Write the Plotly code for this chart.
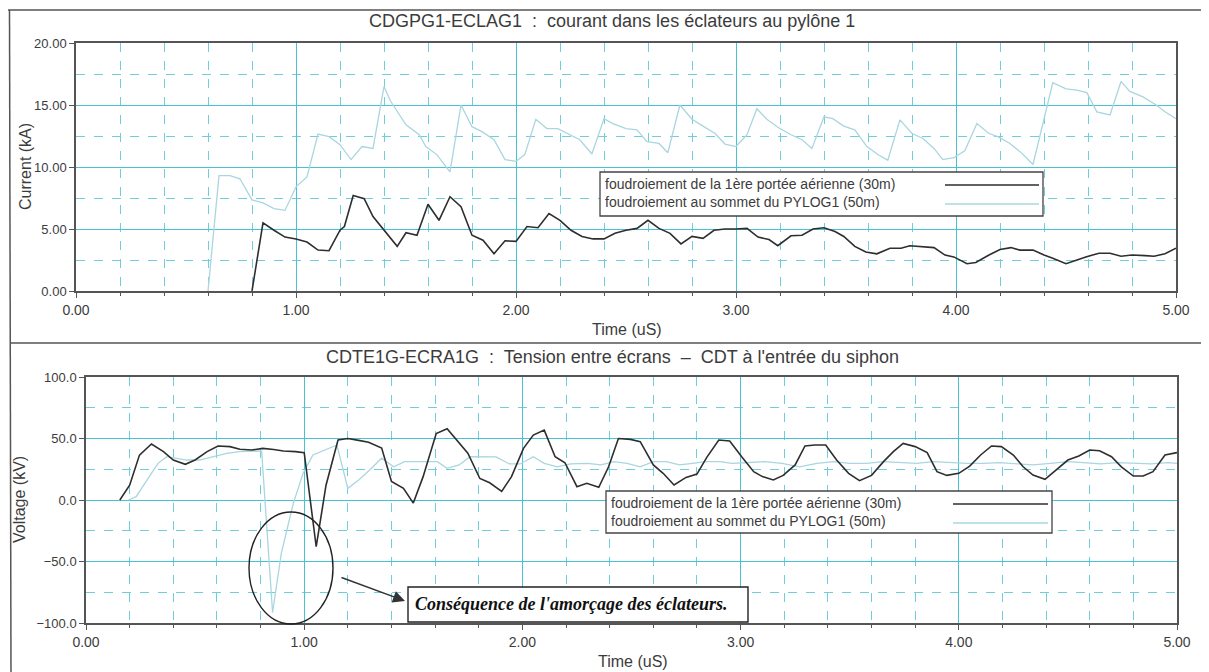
import plotly.graph_objects as go

# ---------------- data ----------------
top_black_t = [0.80, 0.85, 0.90, 0.95, 1.00, 1.05, 1.10, 1.15, 1.20, 1.22, 1.26, 1.31, 1.35, 1.40, 1.46,
               1.50, 1.55, 1.60, 1.65, 1.70, 1.75, 1.80, 1.85, 1.90, 1.95, 2.00, 2.05, 2.10, 2.15, 2.20,
               2.25, 2.30, 2.35, 2.40, 2.45, 2.50, 2.55, 2.60, 2.65, 2.70, 2.75, 2.80, 2.85, 2.90, 2.95,
               3.00, 3.05, 3.10, 3.15, 3.19, 3.25, 3.30, 3.35, 3.40, 3.45, 3.49, 3.54, 3.59, 3.64, 3.70,
               3.75, 3.79, 3.84, 3.90, 3.95, 3.99, 4.05, 4.09, 4.15, 4.20, 4.25, 4.29, 4.35, 4.40, 4.44,
               4.50, 4.55, 4.59, 4.65, 4.70, 4.75, 4.80, 4.86, 4.90, 4.95, 5.00]
top_black_i = [0.0, 5.5, 4.9, 4.35, 4.2, 3.95, 3.3, 3.25, 4.9, 5.2, 7.7, 7.45, 6.0, 4.9, 3.6,
               4.7, 4.5, 7.0, 5.7, 7.6, 6.8, 4.5, 4.1, 3.0, 4.05, 4.0, 5.2, 5.1, 6.25, 5.7,
               4.9, 4.4, 4.2, 4.2, 4.65, 4.9, 5.05, 5.7, 5.05, 4.65, 3.8, 4.4, 4.25, 4.9, 5.0,
               5.0, 5.05, 4.35, 4.15, 3.65, 4.45, 4.5, 5.0, 5.1, 4.8, 4.4, 3.6, 3.15, 3.0, 3.45,
               3.45, 3.65, 3.6, 3.5, 2.9, 2.75, 2.2, 2.3, 2.9, 3.35, 3.5, 3.3, 3.3, 2.9, 2.65,
               2.2, 2.5, 2.75, 3.05, 3.05, 2.8, 2.9, 2.85, 2.8, 3.0, 3.45]

top_cyan_t = [0.60, 0.65, 0.70, 0.745, 0.80, 0.85, 0.90, 0.95, 1.00, 1.05, 1.10, 1.15, 1.20, 1.25, 1.30,
              1.35, 1.40, 1.43, 1.50, 1.56, 1.59, 1.64, 1.70, 1.75, 1.80, 1.845, 1.90, 1.95, 2.00, 2.04,
              2.09, 2.14, 2.19, 2.245, 2.29, 2.345, 2.40, 2.44, 2.50, 2.55, 2.595, 2.65, 2.69, 2.745, 2.80,
              2.85, 2.905, 2.95, 3.00, 3.05, 3.095, 3.14, 3.19, 3.25, 3.30, 3.345, 3.40, 3.44, 3.49, 3.54,
              3.595, 3.65, 3.69, 3.745, 3.80, 3.85, 3.90, 3.94, 3.99, 4.04, 4.095, 4.15, 4.19, 4.245, 4.30,
              4.35, 4.40, 4.44, 4.50, 4.55, 4.595, 4.64, 4.70, 4.75, 4.79, 4.85, 4.91, 4.95, 5.00]
top_cyan_i = [0.0, 9.3, 9.3, 9.05, 7.35, 7.1, 6.65, 6.5, 8.4, 9.2, 12.65, 12.45, 11.8, 10.6, 11.65,
              11.5, 16.5, 15.3, 13.4, 12.6, 11.65, 11.0, 9.6, 15.0, 13.25, 12.85, 12.2, 10.6, 10.45, 11.0,
              13.85, 13.1, 13.1, 12.6, 12.2, 11.05, 13.9, 13.5, 13.1, 13.0, 12.05, 11.9, 11.15, 15.0, 13.85,
              13.3, 12.7, 11.85, 11.65, 12.6, 14.7, 13.85, 13.2, 12.6, 12.2, 11.5, 14.05, 13.9, 13.3, 13.0,
              11.65, 10.95, 10.55, 13.8, 12.7, 12.3, 11.5, 10.6, 10.75, 11.3, 13.5, 12.7, 12.45, 11.9, 11.1,
              10.2, 13.9, 16.8, 16.3, 16.2, 16.0, 14.45, 14.2, 16.9, 16.1, 15.65, 15.0, 14.45, 13.9]

bot_black_t = [0.155, 0.20, 0.245, 0.30, 0.355, 0.40, 0.455, 0.50, 0.555, 0.605, 0.66, 0.705, 0.76, 0.81, 0.86,
               0.905, 0.96, 1.00, 1.055, 1.10, 1.155, 1.20, 1.25, 1.295, 1.355, 1.40, 1.455, 1.50, 1.545, 1.605,
               1.655, 1.705, 1.75, 1.805, 1.85, 1.905, 1.95, 2.005, 2.05, 2.10, 2.15, 2.195, 2.25, 2.295, 2.35,
               2.395, 2.44, 2.495, 2.54, 2.60, 2.645, 2.695, 2.75, 2.80, 2.845, 2.90, 2.95, 3.005, 3.06, 3.10,
               3.15, 3.195, 3.25, 3.295, 3.34, 3.39, 3.44, 3.495, 3.545, 3.60, 3.655, 3.70, 3.745, 3.80, 3.855,
               3.90, 3.945, 4.00, 4.05, 4.10, 4.15, 4.195, 4.25, 4.295, 4.34, 4.395, 4.45, 4.50, 4.55, 4.60,
               4.645, 4.70, 4.745, 4.80, 4.845, 4.89, 4.945, 5.00]
bot_black_v = [0.0, 12.0, 36.5, 45.5, 39.3, 32.5, 29.0, 32.5, 39.3, 43.9, 43.4, 41.2, 40.6, 42.0, 41.0,
               39.8, 39.3, 38.5, -38.0, 12.0, 48.8, 50.0, 48.5, 47.0, 42.3, 15.0, 9.5, -2.5, 19.0, 54.0,
               58.0, 47.5, 38.0, 17.5, 14.0, 7.0, 19.0, 42.0, 52.8, 56.8, 35.2, 30.3, 10.8, 13.6, 10.3,
               27.0, 50.0, 49.3, 47.4, 28.5, 21.7, 12.2, 18.4, 21.1, 34.7, 48.8, 48.0, 35.2, 23.0, 19.0,
               16.3, 20.0, 28.5, 43.9, 44.7, 44.7, 32.5, 21.7, 15.7, 20.0, 31.2, 39.3, 46.0, 43.4, 38.5,
               23.0, 20.0, 21.7, 27.6, 36.6, 43.9, 43.4, 36.6, 27.0, 20.3, 16.8, 25.0, 32.5, 35.8, 40.6,
               40.0, 35.2, 27.0, 19.5, 19.5, 23.0, 36.6, 38.5]

bot_cyan_t = [0.195, 0.23, 0.28, 0.33, 0.37, 0.415, 0.46, 0.52, 0.585, 0.645, 0.705, 0.765, 0.805, 0.855, 0.895,
              0.95, 0.995, 1.04, 1.095, 1.15, 1.20, 1.25, 1.30, 1.355, 1.41, 1.46, 1.515, 1.55, 1.61, 1.655,
              1.71, 1.76, 1.82, 1.88, 1.94, 1.99, 2.05, 2.10, 2.16, 2.22, 2.30, 2.36, 2.42, 2.48, 2.54,
              2.60, 2.66, 2.72, 2.78, 2.84, 2.905, 2.96, 3.04, 3.11, 3.19, 3.27, 3.35, 3.425, 3.50, 3.577,
              3.654, 3.73, 3.807, 3.883, 3.96, 4.04, 4.11, 4.19, 4.27, 4.34, 4.42, 4.50, 4.57, 4.65, 4.73,
              4.80, 4.88, 4.96, 5.00]
bot_cyan_v = [0.0, 2.7, 16.3, 29.8, 35.2, 34.0, 32.5, 32.5, 35.2, 37.9, 39.3, 39.3, 39.8, -91.5, -43.4,
              -2.7, 21.7, 36.6, 40.6, 44.7, 9.5, 16.3, 24.4, 34.0, 27.0, 31.2, 31.2, 31.2, 31.2, 25.7,
              28.5, 35.2, 35.0, 35.0, 29.3, 29.3, 35.2, 29.8, 27.0, 29.3, 29.8, 28.5, 31.2, 29.8, 27.0,
              31.2, 31.2, 28.5, 29.8, 31.2, 31.2, 29.8, 30.5, 31.2, 29.8, 27.0, 29.8, 31.2, 29.8, 29.8,
              31.2, 30.4, 29.8, 31.2, 30.4, 29.8, 29.8, 30.4, 29.3, 28.5, 29.8, 31.2, 30.4, 29.3, 30.4,
              29.8, 29.3, 30.4, 29.8]

series_names = ["foudroiement de la 1ère portée aérienne (30m)",
                "foudroiement au sommet du PYLOG1 (50m)"]
titles = ["CDGPG1-ECLAG1  :  courant dans les éclateurs au pylône 1",
          "CDTE1G-ECRA1G  :  Tension entre écrans  \u2013  CDT à l'entrée du siphon"]
x_title = "Time (uS)"
y_titles = ["Current (kA)", "Voltage (kV)"]
note_text = "Conséquence de l'amorçage des éclateurs."

# ---------------- style ----------------
OFF = 8                      # default page body margin
W, H = 1209 - OFF, 672 - OFF
FONT = "Liberation Sans, Arial, sans-serif"
TXT = "#3c3c3c"
DARK = "#2e2e2e"
LIGHT = "#a9d6df"
GRID = "#45c2d3"
MINOR = "#6fcedb"


def px(x):
    return (x - OFF) / W


def py(y):
    return 1 - (y - OFF) / H


fig = go.Figure()
fig.add_trace(go.Scatter(x=top_black_t, y=top_black_i, mode="lines", line=dict(color=DARK, width=1.6),
                         xaxis="x", yaxis="y", showlegend=False))
fig.add_trace(go.Scatter(x=top_cyan_t, y=top_cyan_i, mode="lines", line=dict(color=LIGHT, width=1.3),
                         xaxis="x", yaxis="y", showlegend=False))
fig.add_trace(go.Scatter(x=bot_cyan_t, y=bot_cyan_v, mode="lines", line=dict(color=LIGHT, width=1.3),
                         xaxis="x2", yaxis="y2", showlegend=False))
fig.add_trace(go.Scatter(x=bot_black_t, y=bot_black_v, mode="lines", line=dict(color=DARK, width=1.6),
                         xaxis="x2", yaxis="y2", showlegend=False))


def xax(domain, anchor):
    return dict(domain=domain, anchor=anchor, range=[0, 5], dtick=1, tick0=0, tickformat=".2f",
                automargin=False,
                showline=True, linecolor="#555", linewidth=1.5, mirror=True,
                ticks="outside", ticklen=5, tickcolor="#555",
                showgrid=True, gridcolor=GRID, gridwidth=1, zeroline=False,
                minor=dict(dtick=0.2, showgrid=True, gridcolor=MINOR, griddash="dash", gridwidth=1,
                           ticks="outside", ticklen=3, tickcolor="#555"),
                tickfont=dict(family=FONT, size=14, color=TXT),
                fixedrange=True)


def yax(domain, anchor, rng, dtick, mdtick, fmt):
    return dict(domain=domain, anchor=anchor, range=rng, dtick=dtick, tickformat=fmt,
                automargin=False,
                showline=True, linecolor="#555", linewidth=1.5, mirror=True,
                ticks="outside", ticklen=5, tickcolor="#555",
                showgrid=True, gridcolor=GRID, gridwidth=1, zeroline=False,
                minor=dict(dtick=mdtick, showgrid=True, gridcolor=MINOR, griddash="dash", gridwidth=1),
                tickfont=dict(family=FONT, size=13, color=TXT),
                fixedrange=True)


fig.update_layout(
    width=W, height=H, margin=dict(l=0, r=0, t=0, b=0, autoexpand=False),
    paper_bgcolor="white", plot_bgcolor="white",
    xaxis=xax([px(76), px(1176)], "y"),
    yaxis=yax([py(291), py(43)], "x", [0, 20], 5, 2.5, ".2f"),
    xaxis2=xax([px(86), px(1177)], "y2"),
    yaxis2=yax([py(623), py(377)], "x2", [-100, 100], 50, 25, ".1f"),
)

shapes = []
# outer frame
shapes.append(dict(type="line", xref="paper", yref="paper", x0=px(8), x1=1, y0=py(10), y1=py(10),
                   line=dict(color="#555", width=1.5)))
shapes.append(dict(type="line", xref="paper", yref="paper", x0=px(9.5), x1=px(11), y0=py(10), y1=0,
                   line=dict(color="#555", width=1.5)))
shapes.append(dict(type="line", xref="paper", yref="paper", x0=px(10), x1=1, y0=py(343), y1=py(343),
                   line=dict(color="#555", width=1.5)))

annotations = []
# titles
for t, (tx, ty) in zip(titles, [(612, 21), (612, 357)]):
    annotations.append(dict(text=t, xref="paper", yref="paper", x=px(tx), y=py(ty), showarrow=False,
                            xanchor="center", yanchor="middle",
                            font=dict(family=FONT, size=18, color=TXT)))
# axis titles
for (tx, ty) in [(627, 329), (633, 661)]:
    annotations.append(dict(text=x_title, xref="paper", yref="paper", x=px(tx), y=py(ty), showarrow=False,
                            xanchor="center", yanchor="middle",
                            font=dict(family=FONT, size=16, color=TXT)))
for t, (tx, ty) in zip(y_titles, [(25, 167), (19, 500)]):
    annotations.append(dict(text=t, xref="paper", yref="paper", x=px(tx), y=py(ty), showarrow=False,
                            xanchor="center", yanchor="middle",
                            textangle=-90, font=dict(family=FONT, size=16, color=TXT)))

# legends (text left, line sample right)
for (bx0, bx1, by0, by1, ty, sx0, sx1, sy) in [
        (600, 1043, 172, 216, (184, 202), 945, 1039, (185, 204)),
        (606, 1052, 491, 533, (503, 521), 953, 1048, (504, 523))]:
    shapes.append(dict(type="rect", xref="paper", yref="paper", x0=px(bx0), x1=px(bx1), y0=py(by1), y1=py(by0),
                       fillcolor="white", line=dict(color="#444", width=1.3), layer="above"))
    for k, col in enumerate([DARK, LIGHT]):
        shapes.append(dict(type="line", xref="paper", yref="paper", x0=px(sx0), x1=px(sx1), y0=py(sy[k]),
                           y1=py(sy[k]), line=dict(color=col, width=1.6 if k == 0 else 1.3), layer="above"))
        annotations.append(dict(text=series_names[k], xref="paper", yref="paper", x=px(bx0 + 3), y=py(ty[k]),
                                xanchor="left", yanchor="middle", showarrow=False,
                                font=dict(family=FONT, size=14, color=TXT)))

# ellipse around the breakdown
shapes.append(dict(type="circle", xref="paper", yref="paper", x0=px(249), x1=px(333), y0=py(624), y1=py(512),
                   line=dict(color="#222", width=1.4), layer="above"))
# note box
shapes.append(dict(type="rect", xref="paper", yref="paper", x0=px(408), x1=px(748), y0=py(622), y1=py(587),
                   fillcolor="white", line=dict(color="#222", width=1.4), layer="above"))
annotations.append(dict(text="<b><i>" + note_text + "</i></b>", xref="paper", yref="paper", x=px(413),
                        y=py(604), xanchor="left", yanchor="middle", showarrow=False,
                        font=dict(family="Liberation Serif, Times New Roman, serif", size=18, color="#111")))
annotations.append(dict(text="", xref="paper", yref="paper", x=px(405), y=py(601), ax=-65, ay=-24,
                        showarrow=True, arrowhead=2, arrowsize=1.6, arrowwidth=1.5, arrowcolor="#333"))

fig.update_layout(shapes=shapes, annotations=annotations)
fig.write_html("out.html")
